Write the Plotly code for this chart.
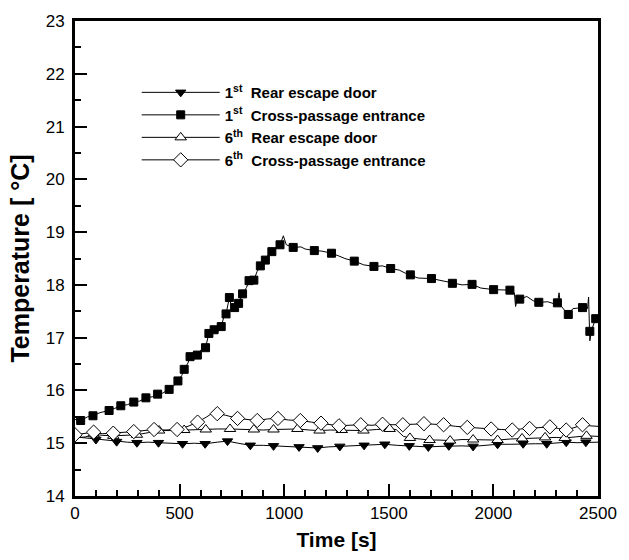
import plotly.graph_objects as go

# ---- Data ----
# 1st Cross-passage entrance (filled squares)
cp1_line_t = [0, 27, 60, 86, 120, 163, 190, 219, 250, 281, 310, 339, 370, 395, 420, 450, 470, 492, 510, 522,
              540, 550, 570, 585, 605, 624, 640, 655, 665, 685, 699, 712, 722, 738, 750, 763, 782, 801, 820, 832,
              855, 870, 886, 910, 925, 941, 960, 980, 996, 1010, 1043, 1080, 1100, 1144, 1180, 1226, 1260, 1290,
              1335, 1380, 1429, 1470, 1509, 1550, 1580, 1603, 1640, 1704, 1750, 1804, 1850, 1898, 1940, 2001,
              2040, 2079, 2100, 2106, 2115, 2126, 2160, 2190, 2217, 2260, 2300, 2306, 2314, 2320, 2340, 2358,
              2380, 2426, 2450, 2455, 2461, 2470, 2489, 2500]
cp1_line_T = [15.45, 15.43, 15.50, 15.52, 15.58, 15.62, 15.66, 15.71, 15.73, 15.78, 15.80, 15.86, 15.88, 15.93,
              15.95, 16.02, 16.08, 16.18, 16.28, 16.40, 16.52, 16.64, 16.62, 16.67, 16.78, 16.81, 17.08, 17.05,
              17.15, 17.12, 17.21, 17.40, 17.45, 17.76, 17.55, 17.57, 17.65, 17.83, 17.95, 18.08, 18.09, 18.25,
              18.36, 18.47, 18.58, 18.63, 18.70, 18.76, 18.93, 18.76, 18.71, 18.72, 18.68, 18.65, 18.64, 18.60,
              18.55, 18.50, 18.45, 18.38, 18.35, 18.36, 18.31, 18.28, 18.22, 18.19, 18.13, 18.12, 18.08, 18.03,
              18.00, 18.01, 17.94, 17.91, 17.90, 17.90, 17.85, 17.59, 17.75, 17.73, 17.78, 17.70, 17.67, 17.68,
              17.63, 17.66, 17.85, 17.62, 17.52, 17.44, 17.55, 17.57, 17.55, 17.77, 16.94, 17.15, 17.36, 17.40]
cp1_mk_t = [27, 86, 163, 219, 281, 339, 395, 450, 492, 522, 550, 585, 624, 640, 665, 699, 722, 738, 763, 782,
            801, 832, 855, 886, 910, 941, 980, 1043, 1144, 1226, 1335, 1429, 1509, 1603, 1704, 1804, 1898, 2001,
            2079, 2126, 2217, 2306, 2358, 2426, 2461, 2489]
cp1_mk_T = [15.43, 15.52, 15.62, 15.71, 15.78, 15.86, 15.93, 16.02, 16.18, 16.40, 16.64, 16.67, 16.81, 17.08,
            17.15, 17.21, 17.45, 17.76, 17.57, 17.65, 17.83, 18.08, 18.09, 18.36, 18.47, 18.63, 18.76, 18.71,
            18.65, 18.60, 18.45, 18.35, 18.31, 18.19, 18.12, 18.03, 18.01, 17.91, 17.90, 17.73, 17.67, 17.66,
            17.44, 17.57, 17.12, 17.36]

# 1st Rear escape door (filled down-triangles)
rd1_line_t = [0, 50, 100, 150, 199, 250, 296, 350, 399, 450, 514, 570, 622, 680, 729, 780, 838, 900, 949, 1010,
              1071, 1120, 1160, 1210, 1266, 1320, 1382, 1430, 1481, 1540, 1598, 1640, 1689, 1740, 1787, 1850,
              1903, 1960, 2020, 2080, 2142, 2200, 2255, 2300, 2348, 2400, 2442, 2500]
rd1_line_T = [15.12, 15.10, 15.07, 15.05, 15.03, 15.02, 15.01, 15.02, 15.01, 15.00, 14.99, 15.00, 14.99, 15.02,
              15.04, 15.00, 14.96, 14.96, 14.95, 14.94, 14.93, 14.92, 14.91, 14.93, 14.94, 14.96, 14.96, 14.97,
              14.98, 14.96, 14.95, 14.94, 14.93, 14.94, 14.95, 14.95, 14.94, 14.96, 14.98, 14.98, 14.99, 14.99,
              14.99, 15.00, 15.02, 15.01, 15.02, 15.02]
rd1_mk_t = [100, 199, 296, 399, 514, 622, 729, 838, 949, 1071, 1160, 1266, 1382, 1481, 1598, 1689, 1787, 1903,
            2020, 2142, 2255, 2348, 2442]
rd1_mk_T = [15.07, 15.03, 15.01, 15.01, 14.99, 14.99, 15.04, 14.96, 14.95, 14.93, 14.91, 14.94, 14.96, 14.98,
            14.95, 14.93, 14.95, 14.94, 14.98, 14.99, 14.99, 15.02, 15.02]

# 6th Rear escape door (open up-triangles)
rd6_line_t = [0, 50, 89, 130, 183, 240, 296, 350, 402, 460, 522, 570, 625, 680, 741, 800, 855, 900, 949, 1000,
              1063, 1120, 1169, 1220, 1275, 1330, 1379, 1440, 1504, 1535, 1570, 1601, 1650, 1695, 1740, 1793,
              1850, 1903, 1960, 2020, 2080, 2137, 2190, 2247, 2300, 2341, 2400, 2445, 2500]
rd6_line_T = [15.10, 15.12, 15.17, 15.15, 15.14, 15.15, 15.16, 15.20, 15.24, 15.24, 15.25, 15.25, 15.26, 15.27,
              15.27, 15.26, 15.26, 15.25, 15.26, 15.27, 15.27, 15.25, 15.24, 15.25, 15.25, 15.24, 15.24, 15.26,
              15.27, 15.26, 15.13, 15.10, 15.08, 15.06, 15.06, 15.05, 15.07, 15.07, 15.07, 15.06, 15.08, 15.09,
              15.10, 15.11, 15.11, 15.10, 15.12, 15.14, 15.13]
rd6_mk_t = [89, 183, 296, 402, 522, 625, 741, 855, 949, 1063, 1169, 1275, 1379, 1504, 1601, 1695, 1793, 1903,
            2020, 2137, 2247, 2341, 2445]
rd6_mk_T = [15.17, 15.14, 15.16, 15.24, 15.25, 15.26, 15.27, 15.26, 15.26, 15.27, 15.24, 15.25, 15.24, 15.27,
            15.10, 15.06, 15.05, 15.07, 15.06, 15.09, 15.11, 15.10, 15.14]

# 6th Cross-passage entrance (open diamonds)
cp6_line_t = [0, 40, 89, 130, 183, 230, 281, 330, 378, 430, 488, 540, 586, 630, 660, 680, 720, 777, 820, 871,
              920, 970, 1020, 1077, 1130, 1176, 1220, 1262, 1310, 1366, 1420, 1470, 1520, 1567, 1620, 1668, 1710,
              1762, 1820, 1875, 1930, 1989, 2040, 2090, 2130, 2173, 2220, 2270, 2310, 2348, 2390, 2426, 2460, 2500]
cp6_line_T = [15.16, 15.18, 15.21, 15.18, 15.19, 15.20, 15.22, 15.24, 15.26, 15.25, 15.26, 15.32, 15.40, 15.50,
              15.58, 15.56, 15.53, 15.47, 15.45, 15.43, 15.46, 15.47, 15.44, 15.43, 15.40, 15.38, 15.36, 15.33,
              15.34, 15.35, 15.34, 15.36, 15.35, 15.35, 15.36, 15.37, 15.36, 15.35, 15.32, 15.30, 15.29, 15.27,
              15.26, 15.25, 15.27, 15.28, 15.30, 15.31, 15.28, 15.25, 15.30, 15.35, 15.33, 15.32]
cp6_mk_t = [0, 89, 183, 281, 378, 488, 586, 680, 777, 871, 970, 1077, 1176, 1262, 1366, 1470, 1567, 1668, 1762,
            1875, 1989, 2090, 2173, 2270, 2348, 2426]
cp6_mk_T = [15.16, 15.21, 15.19, 15.22, 15.26, 15.26, 15.40, 15.56, 15.47, 15.43, 15.47, 15.43, 15.38, 15.33,
            15.35, 15.36, 15.35, 15.37, 15.35, 15.30, 15.27, 15.25, 15.28, 15.31, 15.25, 15.35]

legend_names = ["1<sup>st</sup>\u00a0\u00a0Rear escape door",
                "1<sup>st</sup>\u00a0\u00a0Cross-passage entrance",
                "6<sup>th</sup>\u00a0\u00a0Rear escape door",
                "6<sup>th</sup>\u00a0\u00a0Cross-passage entrance"]

x_ticks = [0, 500, 1000, 1500, 2000, 2500]
y_ticks = [14, 15, 16, 17, 18, 19, 20, 21, 22, 23]

FONT = "Liberation Sans, Arial, sans-serif"

series = [
    (rd1_line_t, rd1_line_T, rd1_mk_t, rd1_mk_T, dict(symbol="triangle-down", size=9, color="black",
                                                       line=dict(color="black", width=1))),
    (cp1_line_t, cp1_line_T, cp1_mk_t, cp1_mk_T, dict(symbol="square", size=8, color="black",
                                                       line=dict(color="black", width=1))),
    (rd6_line_t, rd6_line_T, rd6_mk_t, rd6_mk_T, dict(symbol="triangle-up", size=10, color="white",
                                                       line=dict(color="black", width=1))),
    (cp6_line_t, cp6_line_T, cp6_mk_t, cp6_mk_T, dict(symbol="diamond", size=11, color="white",
                                                       line=dict(color="black", width=1))),
]

fig = go.Figure()
# lines first
for lt, lT, mt, mT, mk in series:
    fig.add_trace(go.Scatter(x=lt, y=lT, mode="lines", line=dict(color="black", width=1),
                             showlegend=False, hoverinfo="skip"))
# markers on top
for lt, lT, mt, mT, mk in series:
    fig.add_trace(go.Scatter(x=mt, y=mT, mode="markers", marker=mk, showlegend=False))
# legend entries
for (lt, lT, mt, mT, mk), name in zip(series, legend_names):
    fig.add_trace(go.Scatter(x=[None], y=[None], mode="lines+markers", name=name,
                             line=dict(color="black", width=1), marker=mk))

fig.update_layout(
    width=629, height=560,
    margin=dict(l=75, r=21, t=15, b=60),
    paper_bgcolor="white", plot_bgcolor="white",
    font=dict(family=FONT, color="black", size=17),
    legend=dict(x=0.118, y=0.884, xanchor="left", yanchor="top",
                bgcolor="rgba(0,0,0,0)", borderwidth=0,
                font=dict(family=FONT, size=15, weight="bold", color="black"),
                itemwidth=78, tracegroupgap=0),
    xaxis=dict(range=[0, 2500], tickvals=x_ticks, ticks="inside", ticklen=12, tickwidth=2,
               tickcolor="black", showline=True, linewidth=3, linecolor="black", mirror=True,
               showgrid=False, zeroline=False,
               minor=dict(dtick=100, tick0=0, ticks="inside", ticklen=6, tickwidth=1.5, tickcolor="black",
                          showgrid=False),
               tickfont=dict(size=17),
               title=dict(text="<b>Time [s]</b>", font=dict(size=21), standoff=10)),
    yaxis=dict(range=[14, 23], tickvals=y_ticks, ticks="inside", ticklen=12, tickwidth=2,
               tickcolor="black", showline=True, linewidth=3, linecolor="black", mirror=True,
               showgrid=False, zeroline=False,
               minor=dict(dtick=0.5, tick0=14, ticks="inside", ticklen=6, tickwidth=1.5, tickcolor="black",
                          showgrid=False),
               tickfont=dict(size=17), ticklabelstandoff=4,
               title=dict(text="<b>Temperature [ °C]</b>", font=dict(size=25), standoff=9)),
)

fig.write_html("out.html")
